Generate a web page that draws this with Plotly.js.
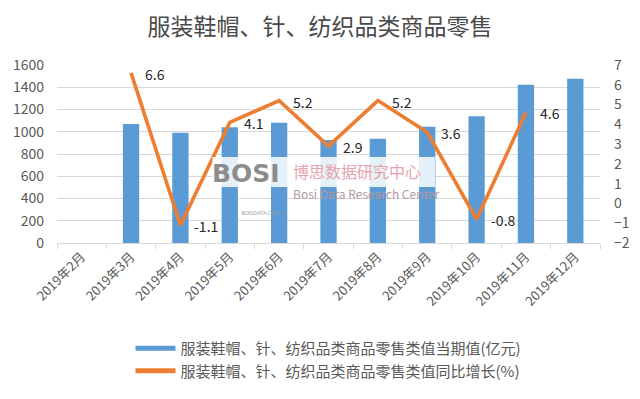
<!DOCTYPE html>
<html><head><meta charset="utf-8">
<script src="https://cdn.plot.ly/plotly-3.0.1.min.js"></script>
<style>body{margin:0;background:#fff}#c{width:640px;height:399px}</style>
</head><body><div id="c"></div>
<script>
const months = ["2019年2月","2019年3月","2019年4月","2019年5月","2019年6月","2019年7月","2019年8月","2019年9月","2019年10月","2019年11月","2019年12月"];
const retailValue = [null,1070,991,1040,1081,926,938,1046,1139,1423,1477];
const yoyGrowth = [null,6.6,-1.1,4.1,5.2,2.9,5.2,3.6,-0.8,4.6,null];
const barName = "服装鞋帽、针、纺织品类商品零售类值当期值(亿元)";
const lineName = "服装鞋帽、针、纺织品类商品零售类值同比增长(%)";
const titleText = "服装鞋帽、针、纺织品类商品零售";

const font = "Noto Sans CJK SC, Noto Sans, sans-serif";
const barColor = '#5b9bd5', lineColor = '#ed7d31';
const labelAnn = [];
months.forEach((m,i)=>{
  if(yoyGrowth[i]!==null){
    labelAnn.push({x:m,y:yoyGrowth[i],xref:'x',yref:'y2',text:yoyGrowth[i].toFixed(1),
      showarrow:false,xanchor:'left',yanchor:'middle',xshift:13,yshift:-1,borderpad:0,
      font:{family:font,size:14,color:'#262626'}});
  }
});
const wm = [
  {xref:'paper',yref:'paper',x:0.284,y:0.48,xanchor:'left',yanchor:'top',align:'right',borderpad:0,
   text:"<b>BOSI</b><br><span style='font-size:5px;color:#9a9a9a'>BOSIDATA.COM</span>",
   showarrow:false,font:{family:'DejaVu Sans',size:25,color:'#8c8c8c'}},
  {xref:'paper',yref:'paper',x:0.433,y:0.478,xanchor:'left',yanchor:'top',align:'left',borderpad:0,
   text:"博思数据研究中心<br><span style='font-size:12px;color:#b09a9e'>Bosi Data Research Center</span>",
   showarrow:false,font:{family:font,size:16,color:'#e6a3ad'}}
];
const data = [
  {type:'bar',x:months,y:retailValue,name:barName,marker:{color:barColor},width:0.33,yaxis:'y',showlegend:false},
  {type:'scatter',mode:'lines',x:[null],y:[null],name:barName,line:{color:barColor,width:6},yaxis:'y',showlegend:true,hoverinfo:'skip'},
  {type:'scatter',mode:'lines',x:months,y:yoyGrowth,name:lineName,yaxis:'y2',line:{color:lineColor,width:3.6},connectgaps:false}
];
const layout = {
  width:640,height:399,
  margin:{l:57,r:40,t:65,b:156},
  paper_bgcolor:'#fff',plot_bgcolor:'#fff',
  title:{text:titleText,x:0.5,xanchor:'center',y:0.932,yanchor:'middle',font:{family:font,size:23,color:'#4a4a4a'}},
  font:{family:font,color:'#595959'},
  xaxis:{type:'category',tickangle:-45,tickfont:{family:font,size:13,color:'#595959'},
    showline:true,linecolor:'#d9d9d9',ticks:'outside',tickson:'boundaries',ticklen:5,tickcolor:'#d9d9d9',showgrid:false},
  yaxis:{range:[0,1600],dtick:200,showgrid:true,gridcolor:'#d9d9d9',zeroline:false,tickfont:{family:font,size:14,color:'#595959'},ticks:'',ticklabelstandoff:12},
  yaxis2:{range:[-2,7],dtick:1,overlaying:'y',side:'right',showgrid:false,zeroline:false,tickfont:{family:font,size:14,color:'#595959'},ticklabelstandoff:13},
  showlegend:true,
  legend:{orientation:'v',x:0.5,xanchor:'center',y:-0.5,yanchor:'top',font:{family:font,size:15,color:'#595959'},tracegroupgap:0,itemwidth:40,itemsizing:'constant'},
  shapes:[
    {type:'rect',xref:'paper',yref:'paper',x0:0.286,x1:0.696,y0:0.315,y1:0.483,fillcolor:'rgba(255,255,255,0.85)',line:{width:0},layer:'above'}
  ],
  annotations:labelAnn.concat(wm)
};
Plotly.newPlot('c',data,layout,{displayModeBar:false,staticPlot:true});
</script></body></html>
